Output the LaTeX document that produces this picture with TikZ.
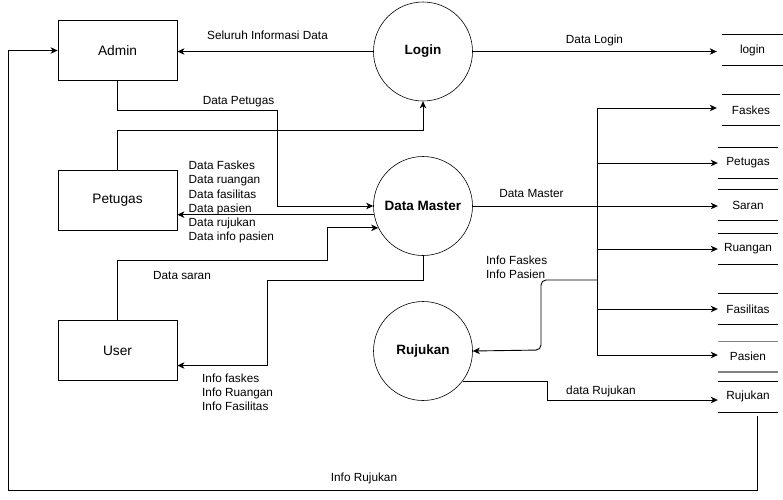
\documentclass[tikz,border=0pt]{standalone}
\usepackage{fontspec}
\setmainfont{Liberation Sans}
\usetikzlibrary{arrows.meta}
\begin{document}
\begin{tikzpicture}[x=1pt,y=-1pt,
  every node/.style={font=\fontsize{11.8}{14.1}\selectfont},
  ent/.style={draw, line width=0.8pt, minimum width=119pt, minimum height=60pt, inner sep=0pt, font=\fontsize{13.7}{16}\selectfont},
  proc/.style={draw, circle, line width=0.6pt, minimum size=99pt, inner sep=0pt, font=\bfseries\fontsize{13.5}{16}\selectfont},
  store/.style={minimum height=30pt, inner sep=0pt},
  sline/.style={line width=0.8pt},
  gline/.style={line width=1.3pt, draw={rgb,255:red,128;green,128;blue,128}},
  flow/.style={line width=0.9pt, -{Stealth[length=7pt,width=6.5pt,inset=2pt]}},
  wire/.style={line width=0.9pt},
  lbl/.style={inner sep=0pt, align=left},
]
\useasboundingbox (0,0) rectangle (783,499);

% entities
\node[ent] (admin) at (117.5,50.5) {Admin};
\node[ent] (petugas) at (117.5,200.5) {Petugas};
\node[ent] (user) at (117.5,350.5) {User};

% processes
\node[proc] (login) at (423,51.5) {Login};
\node[proc] (dm) at (423,206) {Data Master};
\node[proc] (rujukan) at (423,351) {Rujukan};

% stores
\node[store, minimum width=61pt] (ls) at (752.5,50) {login};
\node[store, minimum width=58pt] (fs) at (751,110) {Faskes};
\node[store, minimum width=60pt] (ps) at (748,163) {Petugas};
\node[store, minimum width=60pt] (ss) at (748,205) {Saran};
\node[store, minimum width=60pt] (rgs) at (748,249) {Ruangan};
\node[store, minimum width=60pt] (fas) at (748,309) {Fasilitas};
\node[store, minimum width=60pt] (pas) at (748,356.7) {Pasien};
\node[store, minimum width=60pt] (rjs) at (748,396.7) {Rujukan};
\foreach \s in {ls,fs,ps,ss,rgs,fas,rjs}
  \draw[sline] (\s.north west) -- (\s.north east) (\s.south west) -- (\s.south east);
\draw[gline] (pas.north west) -- (pas.north east) (pas.south west) -- (pas.south east);

% helper coordinates
\coordinate (c1) at (277,110);
\coordinate (c2) at (423,130);
\coordinate (c3) at (327,260);
\coordinate (c4) at (267,280);
\coordinate (b1) at (597,108);
\coordinate (b2) at (597,355);
\coordinate (b3) at (597,280);
\coordinate (c5) at (541,350);
\coordinate (c6) at (547,400);
\coordinate (c7) at (757.5,416);
\coordinate (c8) at (8,490);

% flows
\draw[flow] (login.west) -- (login.west -| admin.east);
\draw[flow] (login.east) -- ([xshift=-5pt]ls.west |- login.east);
\draw[flow] (admin.south) |- (c1) |- (dm.west);
\draw[flow] (petugas.north) |- (c2) -- (login.south);
\draw[flow] (dm.190) -- (dm.190 -| petugas.east);
\draw[flow] (user.north) |- (c3) |- (dm.206);
\draw[flow] (dm.south) |- (c4) |- ([yshift=-15pt]user.east);
\draw[flow] (dm.east) -- (dm.east -| ss.west);
\draw[wire] (b1) -- (b2);
\draw[flow] (b1) -- ([xshift=-5pt]fs.west |- b1);
\draw[flow] (ps.west -| b1) -- (ps.west);
\draw[flow] (rgs.west -| b1) -- (rgs.west);
\draw[flow] (fas.west -| b1) -- (fas.west);
\draw[flow] (b2) -- (b2 -| pas.west);
\draw[flow, rounded corners=5pt] (b3) -| (c5) -- (rujukan.east);
\draw[flow] (rujukan.-37) -| (c6) -- (c6 -| rjs.west);
\draw[flow] (c7) |- (c8) |- (admin.west);

% labels
\node[lbl] (l1) at (267.5,35) {Seluruh Informasi Data};
\node[lbl] (l2) at (594.5,40) {Data Login};
\node[lbl] (l3) at (238.5,101.5) {Data Petugas};
\node[lbl, anchor=west] (l4) at (188.5,202) {Data Faskes\\Data ruangan\\Data fasilitas\\Data pasien\\Data rujukan\\Data info pasien};
\node[lbl] (l5) at (531.5,193.5) {Data Master};
\node[lbl] (l6) at (182,275.5) {Data saran};
\node[lbl, anchor=west] (l7) at (202,392.5) {Info faskes\\Info Ruangan\\Info Fasilitas};
\node[lbl, anchor=west] (l8) at (486,267.5) {Info Faskes\\Info Pasien};
\node[lbl] (l9) at (601,391) {data Rujukan};
\node[lbl] (l10) at (364,478) {Info Rujukan};
\end{tikzpicture}
\end{document}
